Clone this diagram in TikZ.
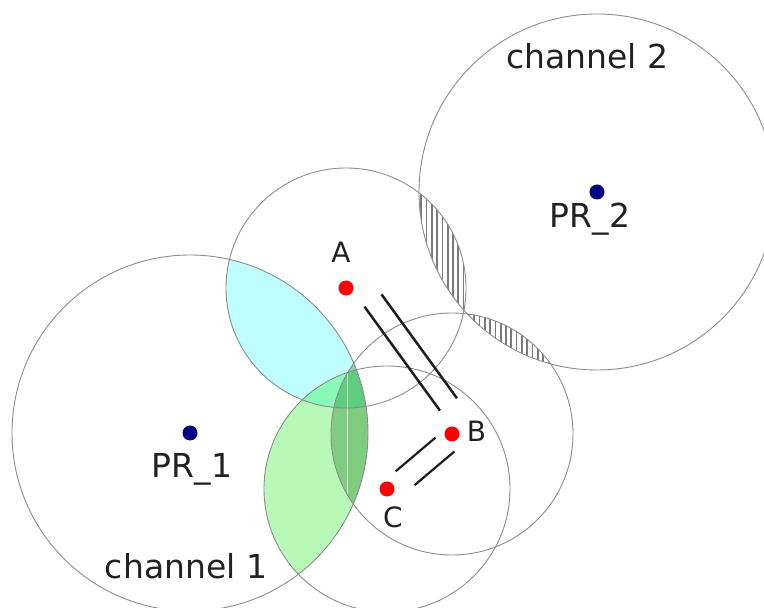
\documentclass[tikz,border=0pt]{standalone}
\usepackage{fontspec}
\setmainfont{DejaVu Sans}
\usepackage{tikz}
\usetikzlibrary{calc}
\definecolor{ringgray}{HTML}{8C8C8C}
\definecolor{hatchgray}{HTML}{7A7A7A}
\definecolor{lenscyan}{RGB}{0,255,255}
\definecolor{lensgreen}{RGB}{0,235,0}
\definecolor{lensdark}{RGB}{0,100,0}
\definecolor{ptred}{HTML}{FF0000}
\definecolor{ptblue}{HTML}{000080}
\definecolor{linkblack}{HTML}{1E1E1E}
\definecolor{txtgray}{HTML}{222222}

\begin{document}
\begin{tikzpicture}[
    x=1pt, y=1pt,
    ring/.style={draw=ringgray, line width=0.9pt},
    pt/.style={circle, inner sep=0pt, minimum size=15pt},
    big/.style={font=\fontsize{33}{40}\selectfont, text=txtgray, anchor=base},
    small/.style={font=\fontsize{28}{34}\selectfont, text=txtgray, anchor=base},
    link/.style={draw=linkblack, line width=2.5pt},
]
\useasboundingbox (0,0) rectangle (764,608);
\fill[white] (0,0) rectangle (764,608);

\coordinate (p1) at (190,175);
\coordinate (p2) at (597,416);
\coordinate (pA) at (346,320);
\coordinate (pB) at (452,174);
\coordinate (pC) at (387,119);

% overlaps with channel 1
\begin{scope}
    \clip (p1) circle[radius=178pt];
    \fill[lenscyan, fill opacity=0.25] (pA) circle[radius=120pt];
    \fill[lensgreen, fill opacity=0.28] (pC) circle[radius=123pt];
    \begin{scope}
        \clip (pB) circle[radius=121pt];
        \fill[lensdark, fill opacity=0.3] (pB) circle[radius=121pt];
        \draw[white, opacity=0.6, line width=1pt] (347,0) -- (347,608);
    \end{scope}
\end{scope}

% overlaps with channel 2
\begin{scope}
    \clip (p2) circle[radius=178pt];
    \clip (pA) circle[radius=120pt] (pB) circle[radius=121pt];
    \foreach \x in {400,405.3,...,570}
        \draw[hatchgray, line width=1.7pt] (\x,200) -- (\x,450);
\end{scope}

\foreach \c/\r in {p1/178, p2/178, pA/120, pB/121, pC/123}
    \draw[ring] (\c) circle[radius=\r pt];

\node[pt, fill=ptblue] (PR1) at (p1) {};
\node[pt, fill=ptblue] (PR2) at (p2) {};
\node[pt, fill=ptred] (A) at (pA) {};
\node[pt, fill=ptred] (B) at (pB) {};
\node[pt, fill=ptred] (C) at (pC) {};

% links
\foreach \off in {4pt,25pt}
    \draw[link] ($(A)!26pt!(B)!\off!90:(B)$) -- ($(B)!26pt!(A)!\off!-90:(A)$);
\foreach \off/\ang/\angb/\sb/\sc in {7.9pt/-90/90/15pt/18pt, 14.9pt/90/-90/9.5pt/23.6pt}
    \draw[link, line width=2.2pt] ($(B)!\sb!(C)!\off!\ang:(C)$) -- ($(C)!\sc!(B)!\off!\angb:(B)$);

\node[big] (lblPR1) at (192,130) {PR\_1};
\node[big] (lblch1) at (186,29) {channel 1};
\node[big] (lblPR2) at (590,380) {PR\_2};
\node[big] (lblch2) at (587.5,539) {channel 2};
\node[small] (lblA) at (341,345) {A};
\node[small] (lblB) at (476.5,166) {B};
\node[small] (lblC) at (393,80) {C};

\end{tikzpicture}
\end{document}
